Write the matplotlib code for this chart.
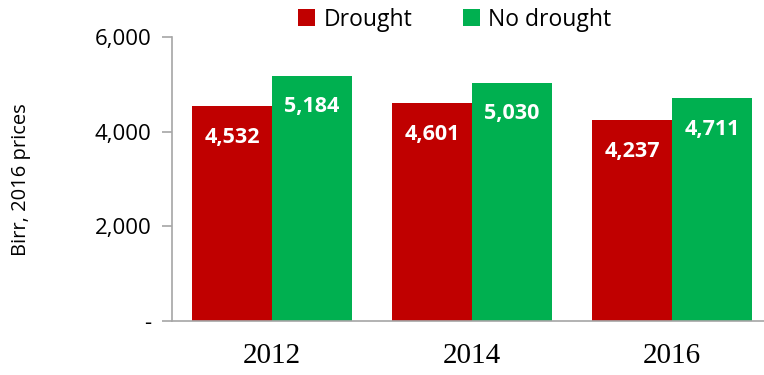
import numpy as np
from matplotlib import pyplot as plt
from matplotlib.ticker import FuncFormatter

# Daten
years = ["2012", "2014", "2016"]
drought = [4532, 4601, 4237]
no_drought = [5184, 5030, 4711]

red = "#C00000"
green = "#00B050"
axis_grey = "#A6A6A6"
sans = "Open Sans"

fig = plt.figure(figsize=(7.64, 3.75), dpi=100)
ax = fig.add_axes([172 / 764, 1 - 321 / 375, 592 / 764, 284 / 375])

x = np.arange(len(years))
w = 0.4
b1 = ax.bar(x - w / 2, drought, w, color=red, label="Drought")
b2 = ax.bar(x + w / 2, no_drought, w, color=green, label="No drought")

# Werte in die Balken schreiben
for bars in (b1, b2):
    for r in bars:
        ax.annotate(f"{r.get_height():,.0f}", (r.get_x() + r.get_width() / 2, r.get_height()),
                    xytext=(0, -31), textcoords="offset pixels",
                    ha="center", va="center", color="white", fontweight="bold",
                    fontsize=15.5, family=sans)

ax.set_xlim(-0.5, -0.5 + 592 / 200)
ax.set_ylim(0, 6000)
ax.set_yticks([0, 2000, 4000, 6000])
ax.yaxis.set_major_formatter(FuncFormatter(lambda v, p: "-" if v == 0 else f"{v:,.0f}"))
ax.set_xticks(x)
ax.set_xticklabels(years, family="Liberation Serif", fontsize=21)
for t in ax.get_yticklabels():
    t.set_family(sans)
    t.set_fontsize(16)

ax.tick_params(axis="x", length=0, pad=16)
ax.tick_params(axis="y", length=7, color=axis_grey, width=1.2, pad=8)
for s in ("top", "right"):
    ax.spines[s].set_visible(False)
ax.spines["left"].set_color(axis_grey)
ax.spines["bottom"].set_color(axis_grey)
ax.spines["left"].set_linewidth(1.2)
ax.spines["bottom"].set_linewidth(1.2)

# Achsenbeschriftung links
fig.text(21 / 764, 1 - 180 / 375, "Birr, 2016 prices", rotation=90,
         ha="center", va="center", family=sans, fontsize=14.5)

fig.legend(loc="upper center", bbox_to_anchor=(0.595, 1.035), ncol=2, frameon=False,
           prop={"family": sans, "size": 16.5}, handlelength=0.75, handleheight=0.75,
           handletextpad=0.35, columnspacing=2.2)

fig.savefig("out.png", dpi=100)
